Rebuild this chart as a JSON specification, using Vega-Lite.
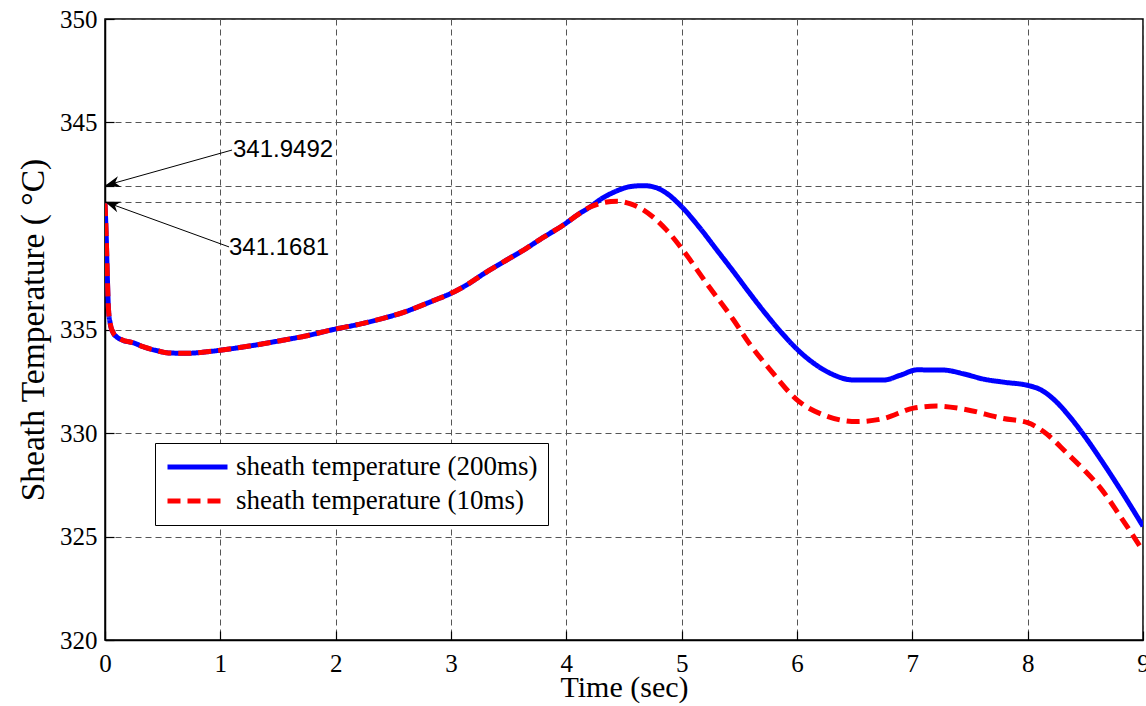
{
  "$schema": "https://vega.github.io/schema/vega-lite/v6.json",
  "width": 1038,
  "height": 621,
  "autosize": {"type": "none"},
  "padding": {"left": 105, "top": 19, "right": 3, "bottom": 66},
  "background": "white",
  "config": {
    "view": {"stroke": "black", "strokeWidth": 1.5},
    "axis": {
      "grid": true,
      "gridDash": [6, 4],
      "gridColor": "#555555",
      "gridWidth": 1,
      "domainColor": "black",
      "domainWidth": 1.5,
      "tickColor": "black",
      "tickWidth": 1.2,
      "tickSize": -9,
      "labelFont": "Liberation Serif",
      "labelFontSize": 25,
      "labelColor": "black",
      "labelFlush": false,
      "labelOverlap": false,
      "titleFont": "Liberation Serif",
      "titleFontSize": 30,
      "titleFontWeight": "normal",
      "titleColor": "black"
    }
  },
  "datasets": {
    "curves": [
      {"series": "sheath temperature (200ms)", "t": 0, "temp": 341.1},
      {"series": "sheath temperature (200ms)", "t": 0.01, "temp": 339.6},
      {"series": "sheath temperature (200ms)", "t": 0.02, "temp": 337.6},
      {"series": "sheath temperature (200ms)", "t": 0.03, "temp": 336.0},
      {"series": "sheath temperature (200ms)", "t": 0.045, "temp": 335.3},
      {"series": "sheath temperature (200ms)", "t": 0.07, "temp": 334.85},
      {"series": "sheath temperature (200ms)", "t": 0.1, "temp": 334.65},
      {"series": "sheath temperature (200ms)", "t": 0.145, "temp": 334.5},
      {"series": "sheath temperature (200ms)", "t": 0.25, "temp": 334.35},
      {"series": "sheath temperature (200ms)", "t": 0.33, "temp": 334.17},
      {"series": "sheath temperature (200ms)", "t": 0.45, "temp": 333.98},
      {"series": "sheath temperature (200ms)", "t": 0.55, "temp": 333.87},
      {"series": "sheath temperature (200ms)", "t": 0.7, "temp": 333.85},
      {"series": "sheath temperature (200ms)", "t": 0.88, "temp": 333.92},
      {"series": "sheath temperature (200ms)", "t": 1.0, "temp": 334.0},
      {"series": "sheath temperature (200ms)", "t": 1.25, "temp": 334.2},
      {"series": "sheath temperature (200ms)", "t": 1.52, "temp": 334.46},
      {"series": "sheath temperature (200ms)", "t": 1.75, "temp": 334.7},
      {"series": "sheath temperature (200ms)", "t": 1.98, "temp": 335.0},
      {"series": "sheath temperature (200ms)", "t": 2.2, "temp": 335.25},
      {"series": "sheath temperature (200ms)", "t": 2.41, "temp": 335.54},
      {"series": "sheath temperature (200ms)", "t": 2.6, "temp": 335.85},
      {"series": "sheath temperature (200ms)", "t": 2.73, "temp": 336.13},
      {"series": "sheath temperature (200ms)", "t": 2.85, "temp": 336.4},
      {"series": "sheath temperature (200ms)", "t": 2.99, "temp": 336.72},
      {"series": "sheath temperature (200ms)", "t": 3.15, "temp": 337.2},
      {"series": "sheath temperature (200ms)", "t": 3.28, "temp": 337.68},
      {"series": "sheath temperature (200ms)", "t": 3.45, "temp": 338.25},
      {"series": "sheath temperature (200ms)", "t": 3.63, "temp": 338.84},
      {"series": "sheath temperature (200ms)", "t": 3.8, "temp": 339.45},
      {"series": "sheath temperature (200ms)", "t": 3.975, "temp": 340.05},
      {"series": "sheath temperature (200ms)", "t": 4.1, "temp": 340.55},
      {"series": "sheath temperature (200ms)", "t": 4.2, "temp": 340.9},
      {"series": "sheath temperature (200ms)", "t": 4.3, "temp": 341.3},
      {"series": "sheath temperature (200ms)", "t": 4.44, "temp": 341.7},
      {"series": "sheath temperature (200ms)", "t": 4.55, "temp": 341.9},
      {"series": "sheath temperature (200ms)", "t": 4.67, "temp": 341.95},
      {"series": "sheath temperature (200ms)", "t": 4.78, "temp": 341.85},
      {"series": "sheath temperature (200ms)", "t": 4.87, "temp": 341.58},
      {"series": "sheath temperature (200ms)", "t": 5.0, "temp": 340.93},
      {"series": "sheath temperature (200ms)", "t": 5.16, "temp": 339.89},
      {"series": "sheath temperature (200ms)", "t": 5.305, "temp": 338.84},
      {"series": "sheath temperature (200ms)", "t": 5.45, "temp": 337.79},
      {"series": "sheath temperature (200ms)", "t": 5.59, "temp": 336.75},
      {"series": "sheath temperature (200ms)", "t": 5.74, "temp": 335.68},
      {"series": "sheath temperature (200ms)", "t": 5.87, "temp": 334.82},
      {"series": "sheath temperature (200ms)", "t": 6.0, "temp": 334.05},
      {"series": "sheath temperature (200ms)", "t": 6.15, "temp": 333.35},
      {"series": "sheath temperature (200ms)", "t": 6.29, "temp": 332.88},
      {"series": "sheath temperature (200ms)", "t": 6.49, "temp": 332.56},
      {"series": "sheath temperature (200ms)", "t": 6.75, "temp": 332.56},
      {"series": "sheath temperature (200ms)", "t": 6.9, "temp": 332.8},
      {"series": "sheath temperature (200ms)", "t": 7.04, "temp": 333.05},
      {"series": "sheath temperature (200ms)", "t": 7.27, "temp": 333.04},
      {"series": "sheath temperature (200ms)", "t": 7.45, "temp": 332.85},
      {"series": "sheath temperature (200ms)", "t": 7.62, "temp": 332.6},
      {"series": "sheath temperature (200ms)", "t": 7.8, "temp": 332.45},
      {"series": "sheath temperature (200ms)", "t": 8.0, "temp": 332.3},
      {"series": "sheath temperature (200ms)", "t": 8.11, "temp": 332.1},
      {"series": "sheath temperature (200ms)", "t": 8.25, "temp": 331.5},
      {"series": "sheath temperature (200ms)", "t": 8.34, "temp": 330.95},
      {"series": "sheath temperature (200ms)", "t": 8.5, "temp": 329.8},
      {"series": "sheath temperature (200ms)", "t": 8.63, "temp": 328.75},
      {"series": "sheath temperature (200ms)", "t": 8.8, "temp": 327.3},
      {"series": "sheath temperature (200ms)", "t": 9.0, "temp": 325.5},
      {"series": "sheath temperature (10ms)", "t": 0, "temp": 341.1},
      {"series": "sheath temperature (10ms)", "t": 0.01, "temp": 339.6},
      {"series": "sheath temperature (10ms)", "t": 0.02, "temp": 337.6},
      {"series": "sheath temperature (10ms)", "t": 0.03, "temp": 336.0},
      {"series": "sheath temperature (10ms)", "t": 0.045, "temp": 335.3},
      {"series": "sheath temperature (10ms)", "t": 0.07, "temp": 334.85},
      {"series": "sheath temperature (10ms)", "t": 0.1, "temp": 334.65},
      {"series": "sheath temperature (10ms)", "t": 0.145, "temp": 334.5},
      {"series": "sheath temperature (10ms)", "t": 0.25, "temp": 334.35},
      {"series": "sheath temperature (10ms)", "t": 0.33, "temp": 334.17},
      {"series": "sheath temperature (10ms)", "t": 0.45, "temp": 333.98},
      {"series": "sheath temperature (10ms)", "t": 0.55, "temp": 333.87},
      {"series": "sheath temperature (10ms)", "t": 0.7, "temp": 333.85},
      {"series": "sheath temperature (10ms)", "t": 0.88, "temp": 333.92},
      {"series": "sheath temperature (10ms)", "t": 1.0, "temp": 334.0},
      {"series": "sheath temperature (10ms)", "t": 1.25, "temp": 334.2},
      {"series": "sheath temperature (10ms)", "t": 1.52, "temp": 334.46},
      {"series": "sheath temperature (10ms)", "t": 1.75, "temp": 334.7},
      {"series": "sheath temperature (10ms)", "t": 1.98, "temp": 335.0},
      {"series": "sheath temperature (10ms)", "t": 2.2, "temp": 335.25},
      {"series": "sheath temperature (10ms)", "t": 2.41, "temp": 335.54},
      {"series": "sheath temperature (10ms)", "t": 2.6, "temp": 335.85},
      {"series": "sheath temperature (10ms)", "t": 2.73, "temp": 336.13},
      {"series": "sheath temperature (10ms)", "t": 2.85, "temp": 336.4},
      {"series": "sheath temperature (10ms)", "t": 2.99, "temp": 336.72},
      {"series": "sheath temperature (10ms)", "t": 3.15, "temp": 337.2},
      {"series": "sheath temperature (10ms)", "t": 3.28, "temp": 337.68},
      {"series": "sheath temperature (10ms)", "t": 3.45, "temp": 338.25},
      {"series": "sheath temperature (10ms)", "t": 3.63, "temp": 338.84},
      {"series": "sheath temperature (10ms)", "t": 3.8, "temp": 339.45},
      {"series": "sheath temperature (10ms)", "t": 3.975, "temp": 340.05},
      {"series": "sheath temperature (10ms)", "t": 4.1, "temp": 340.55},
      {"series": "sheath temperature (10ms)", "t": 4.2, "temp": 340.9},
      {"series": "sheath temperature (10ms)", "t": 4.3, "temp": 341.1},
      {"series": "sheath temperature (10ms)", "t": 4.44, "temp": 341.2},
      {"series": "sheath temperature (10ms)", "t": 4.55, "temp": 341.08},
      {"series": "sheath temperature (10ms)", "t": 4.67, "temp": 340.77},
      {"series": "sheath temperature (10ms)", "t": 4.87, "temp": 339.8},
      {"series": "sheath temperature (10ms)", "t": 5.01, "temp": 338.84},
      {"series": "sheath temperature (10ms)", "t": 5.22, "temp": 337.2},
      {"series": "sheath temperature (10ms)", "t": 5.45, "temp": 335.46},
      {"series": "sheath temperature (10ms)", "t": 5.59, "temp": 334.3},
      {"series": "sheath temperature (10ms)", "t": 5.77, "temp": 333.04},
      {"series": "sheath temperature (10ms)", "t": 6.0, "temp": 331.6},
      {"series": "sheath temperature (10ms)", "t": 6.23, "temp": 330.87},
      {"series": "sheath temperature (10ms)", "t": 6.52, "temp": 330.55},
      {"series": "sheath temperature (10ms)", "t": 6.75, "temp": 330.7},
      {"series": "sheath temperature (10ms)", "t": 7.01, "temp": 331.2},
      {"series": "sheath temperature (10ms)", "t": 7.21, "temp": 331.3},
      {"series": "sheath temperature (10ms)", "t": 7.44, "temp": 331.16},
      {"series": "sheath temperature (10ms)", "t": 7.79, "temp": 330.7},
      {"series": "sheath temperature (10ms)", "t": 8.0, "temp": 330.5},
      {"series": "sheath temperature (10ms)", "t": 8.14, "temp": 330.06},
      {"series": "sheath temperature (10ms)", "t": 8.34, "temp": 329.03},
      {"series": "sheath temperature (10ms)", "t": 8.5, "temp": 328.15},
      {"series": "sheath temperature (10ms)", "t": 8.63, "temp": 327.35},
      {"series": "sheath temperature (10ms)", "t": 8.8, "temp": 326.0},
      {"series": "sheath temperature (10ms)", "t": 9.0, "temp": 324.3}
    ],
    "arrows": [
      {"label": "341.9492", "t": 0, "temp": 341.9492, "t2": 1.1015, "temp2": 343.67},
      {"label": "341.1681", "t": 0, "temp": 341.1681, "t2": 1.0755, "temp2": 338.99}
    ],
    "notes": [
      {"label": "341.9492", "t": 1.11, "temp": 343.67},
      {"label": "341.1681", "t": 1.075, "temp": 338.94}
    ]
  },
  "layer": [
    {
      "data": {"name": "curves"},
      "transform": [{"filter": "datum.series === 'sheath temperature (200ms)'"}],
      "mark": {"type": "line", "strokeWidth": 5, "interpolate": "monotone", "clip": true},
      "encoding": {
        "x": {
          "field": "t", "type": "quantitative",
          "scale": {"domain": [0, 9], "nice": false, "zero": false},
          "axis": {"values": [0, 1, 2, 3, 4, 5, 6, 7, 8, 9], "format": "d", "labelPadding": 20, "title": "Time (sec)", "titleBaseline": "alphabetic", "titleY": 56}
        },
        "y": {
          "field": "temp", "type": "quantitative",
          "scale": {"domain": [320, 350], "nice": false, "zero": false},
          "axis": {
            "values": [320, 325, 330, 335, 341.1681, 341.9492, 345, 350],
            "format": "d",
            "labelExpr": "datum.value > 340 && datum.value < 342 ? '' : datum.label",
            "labelPadding": 17,
            "title": "Sheath Temperature ( °C)",
            "titleFontSize": 33.5,
            "titleBaseline": "alphabetic",
            "titleX": -62
          }
        },
        "color": {
          "field": "series", "type": "nominal",
          "scale": {"domain": ["sheath temperature (200ms)", "sheath temperature (10ms)"], "range": ["#0000ff", "#ff0000"]},
          "legend": {
            "orient": "none", "legendX": 50, "legendY": 424, "title": null,
            "direction": "vertical",
            "strokeColor": "black", "fillColor": "white", "padding": 10,
            "symbolType": "stroke", "symbolSize": 3600, "symbolStrokeWidth": 5,
            "clipHeight": 28, "rowPadding": 6,
            "labelFont": "Liberation Serif", "labelFontSize": 27, "labelColor": "black",
            "labelOffset": 6, "labelLimit": 0
          }
        },
        "strokeDash": {
          "field": "series", "type": "nominal",
          "scale": {"domain": ["sheath temperature (200ms)", "sheath temperature (10ms)"], "range": [[1, 0], [13, 7]]},
          "legend": {
            "orient": "none", "legendX": 50, "legendY": 424, "title": null,
            "direction": "vertical",
            "strokeColor": "black", "fillColor": "white", "padding": 10,
            "symbolType": "stroke", "symbolSize": 3600, "symbolStrokeWidth": 5,
            "clipHeight": 28, "rowPadding": 6,
            "labelFont": "Liberation Serif", "labelFontSize": 27, "labelColor": "black",
            "labelOffset": 6, "labelLimit": 0
          }
        }
      }
    },
    {
      "data": {"name": "curves"},
      "transform": [{"filter": "datum.series === 'sheath temperature (10ms)'"}],
      "mark": {"type": "line", "strokeWidth": 5, "interpolate": "monotone", "clip": true},
      "encoding": {
        "x": {"field": "t", "type": "quantitative"},
        "y": {"field": "temp", "type": "quantitative"},
        "color": {"field": "series", "type": "nominal"},
        "strokeDash": {"field": "series", "type": "nominal"}
      }
    },
    {
      "data": {"name": "arrows"},
      "mark": {"type": "rule", "color": "black", "strokeWidth": 1},
      "encoding": {
        "x": {"field": "t", "type": "quantitative"},
        "y": {"field": "temp", "type": "quantitative"},
        "x2": {"field": "t2"},
        "y2": {"field": "temp2"}
      }
    },
    {
      "data": {"name": "arrows"},
      "transform": [{"filter": "datum.label === '341.9492'"}],
      "mark": {"type": "point", "shape": "M0,0 L2,-0.75 L1.4,0 L2,0.75 Z", "size": 225, "angle": -15.7, "filled": true, "color": "black", "opacity": 1, "strokeWidth": 0},
      "encoding": {
        "x": {"field": "t", "type": "quantitative"},
        "y": {"field": "temp", "type": "quantitative"}
      }
    },
    {
      "data": {"name": "arrows"},
      "transform": [{"filter": "datum.label === '341.1681'"}],
      "mark": {"type": "point", "shape": "M0,0 L2,-0.75 L1.4,0 L2,0.75 Z", "size": 225, "angle": 20, "filled": true, "color": "black", "opacity": 1, "strokeWidth": 0},
      "encoding": {
        "x": {"field": "t", "type": "quantitative"},
        "y": {"field": "temp", "type": "quantitative"}
      }
    },
    {
      "data": {"name": "notes"},
      "mark": {"type": "text", "align": "left", "baseline": "middle", "font": "Liberation Sans", "fontSize": 24, "color": "black"},
      "encoding": {
        "x": {"field": "t", "type": "quantitative"},
        "y": {"field": "temp", "type": "quantitative"},
        "text": {"field": "label"}
      }
    }
  ]
}
